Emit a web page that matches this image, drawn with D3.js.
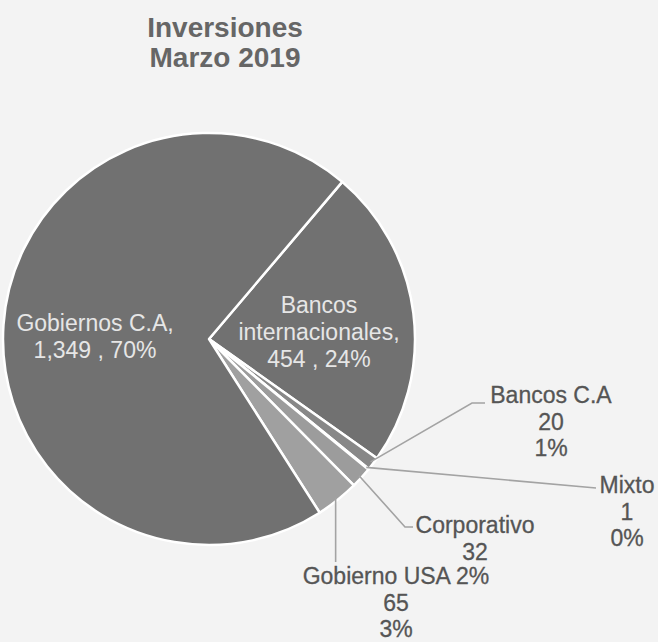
<!DOCTYPE html>
<html>
<head>
<meta charset="utf-8">
<script src="https://cdn.jsdelivr.net/npm/d3@7"></script>
<style>
  html, body { margin: 0; padding: 0; background: #f3f3f3; }
  svg { display: block; font-family: "Liberation Sans", Arial, sans-serif; }
</style>
</head>
<body>
<svg id="chart" width="658" height="642"></svg>
<script>
// Investment portfolio by issuer, March 2019 (millions)
const categories = ["Bancos internacionales", "Bancos C.A", "Mixto", "Corporativo", "Gobierno USA", "Gobiernos C.A"];
const values = [454, 20, 1, 32, 65, 1349];
const percentLabels = ["24%", "1%", "0%", "2%", "3%", "70%"];
const titleLines = ["Inversiones", "Marzo 2019"];

const fills = ["#717171", "#888888", "#8c8c8c", "#9c9c9c", "#a0a0a0", "#717171"];

const svg = d3.select("#chart");
const W = 658, H = 642;
const cx = 209, cy = 339, R = 206;

svg.append("rect").attr("width", W).attr("height", H).attr("fill", "#f3f3f3");

// title
svg.append("g").selectAll("text")
  .data(titleLines)
  .join("text")
  .attr("x", 225)
  .attr("y", (d, i) => 37 + i * 30)
  .attr("text-anchor", "middle")
  .attr("font-size", 28)
  .attr("font-weight", "bold")
  .attr("fill", "#666666")
  .text(d => d);

const data = categories.map((c, i) => ({ name: c, value: values[i], pct: percentLabels[i], fill: fills[i] }));

const startDeg = 40.3;
const pie = d3.pie().sort(null).value(d => d.value)
  .startAngle(startDeg * Math.PI / 180)
  .endAngle((startDeg + 360) * Math.PI / 180);
const arcs = pie(data);
const arc = d3.arc().innerRadius(0).outerRadius(R);

const g = svg.append("g").attr("transform", `translate(${cx},${cy})`);
g.selectAll("path")
  .data(arcs)
  .join("path")
  .attr("d", arc)
  .attr("fill", d => d.data.fill)
  .attr("stroke", "#ffffff")
  .attr("stroke-width", 2.5)
  .attr("stroke-linejoin", "round");

const fmt = d3.format(",");
const byName = Object.fromEntries(arcs.map(a => [a.data.name, a]));

// point on the rim at a slice's middle angle
function rimPoint(a, r) {
  const m = (a.startAngle + a.endAngle) / 2;
  return [cx + r * Math.sin(m), cy - r * Math.cos(m)];
}

// labels drawn inside the two large slices
const insideLabels = [
  { name: "Gobiernos C.A", x: 95, y: 331, lines: d => [d.name + ",", fmt(d.value) + " , " + d.pct] },
  { name: "Bancos internacionales", x: 319, y: 313, lines: d => ["Bancos", "internacionales,", fmt(d.value) + " , " + d.pct] }
];
insideLabels.forEach(l => {
  const d = byName[l.name].data;
  svg.append("g").selectAll("text")
    .data(l.lines(d))
    .join("text")
    .attr("x", l.x)
    .attr("y", (t, i) => l.y + i * 27)
    .attr("text-anchor", "middle")
    .attr("font-size", 23)
    .attr("fill", "#e6e6e6")
    .text(t => t);
});

// labels outside with leader lines
const outside = [
  { name: "Bancos C.A", pts: [[472, 403], [485, 403]], x: 551, y: 403, lines: d => [d.name, fmt(d.value), d.pct] },
  { name: "Mixto", pts: [[596, 488]], x: 627, y: 493, lines: d => [d.name, fmt(d.value), d.pct] },
  { name: "Corporativo", pts: [[405, 527], [413, 527]], x: 475, y: 533, lines: d => [d.name, fmt(d.value)] },
  { name: "Gobierno USA", pts: "vertical", x: 396, y: 584, lines: d => [d.name + " 2%", fmt(d.value), d.pct] }
];

const line = d3.line();
outside.forEach(l => {
  const a = byName[l.name];
  const p0 = rimPoint(a, R - 3);
  const pts = l.pts === "vertical" ? [p0, [p0[0], 562]] : [p0, ...l.pts];
  svg.append("path")
    .attr("d", line(pts))
    .attr("fill", "none")
    .attr("stroke", "#a3a3a3")
    .attr("stroke-width", 1.6);
  svg.append("g").selectAll("text")
    .data(l.lines(a.data))
    .join("text")
    .attr("x", l.x)
    .attr("y", (t, i) => l.y + i * 26.5)
    .attr("text-anchor", "middle")
    .attr("font-size", 23)
    .attr("fill", "#555555")
    .attr("stroke", "#555555")
    .attr("stroke-width", 0.3)
    .text(t => t);
});
</script>
</body>
</html>
